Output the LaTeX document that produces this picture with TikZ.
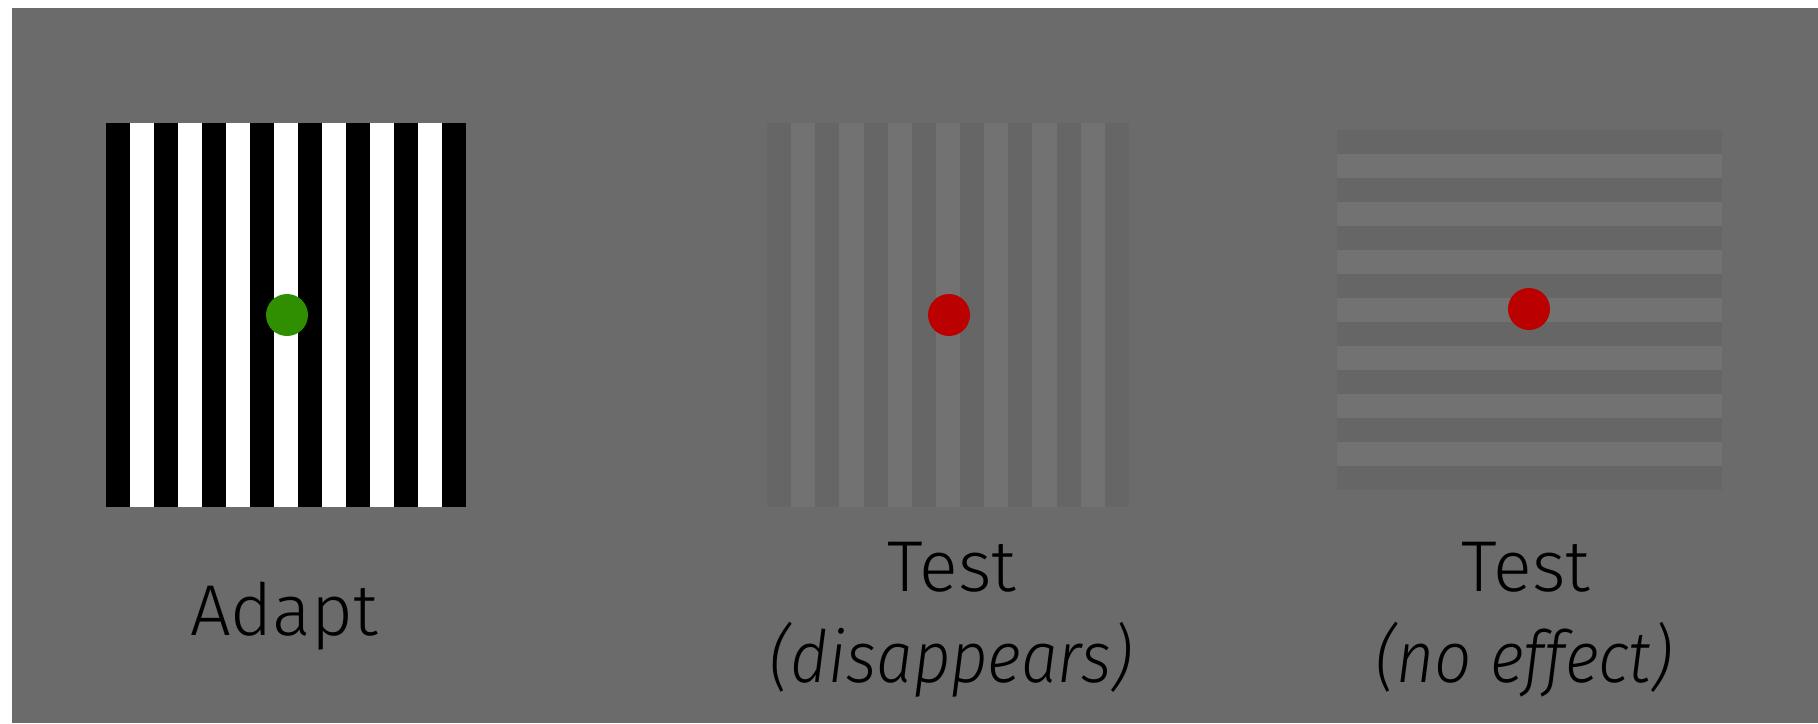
\documentclass[tikz,border=0pt]{standalone}
\usepackage{fontspec}
\setmainfont{Fira Sans}[UprightFont=* Light, ItalicFont=* Light Italic, ItalicFeatures={FakeStretch=0.91}]
\definecolor{bg}{HTML}{6B6B6B}
\definecolor{gratlight}{HTML}{727272}
\definecolor{gratdark}{HTML}{666666}
\definecolor{adaptgreen}{HTML}{2F8F00}
\definecolor{testred}{HTML}{BB0000}
\tikzset{
  label text/.style={inner sep=0pt, anchor=base, text=black, font=\fontsize{72}{90}\selectfont},
  fixdot/.style={radius=21pt},
}
\begin{document}
\begin{tikzpicture}[x=1pt,y=-1pt]
\useasboundingbox (0,0) rectangle (1818,723);
\fill[white] (0,0) rectangle (1818,723);
\fill[bg] (12,8) rectangle (1818,723);
% Adapt grating: 15 vertical bars, black first
\fill[black] (106,123) rectangle (466,507);
\foreach \i in {1,3,...,13} {\fill[white] (106+24*\i,123) rectangle (130+24*\i,507);}
\fill[adaptgreen, fixdot] (287,315) circle;
% Test grating, vertical, low contrast
\fill[gratdark] (767,123) rectangle (1129,507);
\foreach \i in {1,3,...,13} {\fill[gratlight] (767+24.13*\i,123) rectangle (791.13+24.13*\i,507);}
\fill[testred, fixdot] (949,315) circle;
% Test grating, horizontal, low contrast
\fill[gratdark] (1337,130) rectangle (1722,490);
\foreach \i in {1,3,...,13} {\fill[gratlight] (1337,130+24*\i) rectangle (1722,154+24*\i);}
\fill[testred, fixdot] (1529,309) circle;
% labels
\node[label text] (adapt) at (284,635) {Adapt};
\node[label text] (test1) at (952,591) {Test};
\node[label text] (dis) at (951,682) {\itshape(disappears)};
\node[label text] (test2) at (1526,591) {Test};
\node[label text] (noeff) at (1524,682) {\itshape(no effect)};
\end{tikzpicture}
\end{document}
